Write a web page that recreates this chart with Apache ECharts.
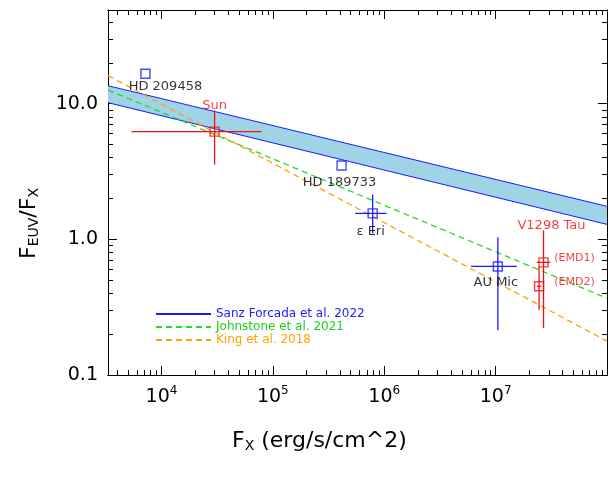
<!DOCTYPE html><html><head><meta charset="utf-8">
<script src="https://cdn.jsdelivr.net/npm/echarts@6/dist/echarts.min.js"></script>
<style>html,body{margin:0;padding:0;background:#fff}#c{width:615px;height:484px}</style></head><body><div id="c"></div>
<script>
// all values in log10 space
const xRange=[3.52,8.0], yRange=[-1,1.69];
const xMajor=[4,5,6,7], yMajor=[-1,0,1];
const yMajorLabels=['0.1','1.0','10.0'];
const sanzLower=[[3.52,1.007],[8.0,0.110]];
const sanzUpper=[[3.52,1.132],[8.0,0.243]];
const johnstone=[[3.52,1.10],[8.0,-0.434]];
const king=[[3.52,1.206],[8.0,-0.75]];
// points: name, x, y, xlo, xhi, ylo, yhi
const bluePts=[['HD 209458',3.856,1.22,null,null,null,null],['HD 189733',5.617,0.544,null,null,null,null],['ε Eri',5.896,0.191,5.74,6.02,0.044,0.33],['AU Mic',7.02,-0.2,6.78,7.19,-0.67,0.015]];
const redPts=[['Sun',4.477,0.794,3.73,4.9,0.551,0.949],['V1298 Tau (EMD1)',7.43,-0.17,7.37,7.49,-0.654,0.066],['V1298 Tau (EMD2)',7.39,-0.346,7.37,7.41,-0.52,-0.2]];
const minorX=[],minorY=[];
for(let d=3;d<8;d++)for(let k=2;k<10;k++){const v=d+Math.log10(k);if(v>xRange[0]&&v<xRange[1])minorX.push(v);}
for(let d=-1;d<2;d++)for(let k=2;k<10;k++){const v=d+Math.log10(k);if(v>yRange[0]&&v<yRange[1])minorY.push(v);}
const BLUE='#1a1aff',RED='#ee1111',GREEN='#22dd22',ORANGE='#ffa200';
const F='DejaVu Sans';
function axX(id,pos,ticks,len,label){return {type:'value',gridIndex:0,position:pos,min:xRange[0],max:xRange[1],
 splitLine:{show:false},axisLine:{show:true,onZero:false,lineStyle:{color:'#000'}},
 axisTick:{show:true,inside:true,length:len,customValues:ticks,lineStyle:{color:'#000'}},
 axisLabel:{show:label,customValues:ticks,color:'#000',fontFamily:F,fontSize:19,margin:10,
  formatter:v=>'10{s|'+Math.round(v)+'}',rich:{s:{fontSize:12,verticalAlign:'top',padding:[0,0,12,0],fontFamily:F}}}};}
function axY(id,pos,ticks,len,label){return {type:'value',gridIndex:0,position:pos,min:yRange[0],max:yRange[1],
 splitLine:{show:false},axisLine:{show:true,onZero:false,lineStyle:{color:'#000'}},
 axisTick:{show:true,inside:true,length:len,customValues:ticks,lineStyle:{color:'#000'}},
 axisLabel:{show:label,customValues:ticks,color:'#000',fontFamily:F,fontSize:19,margin:10,
  formatter:v=>yMajorLabels[yMajor.indexOf(Math.round(v))]}};}
function errSeries(pts,color){return {type:'custom',xAxisIndex:0,yAxisIndex:0,data:pts.filter(p=>p[3]!==null).map(p=>p.slice(1)),
 renderItem:(params,api)=>{const x=api.value(0),y=api.value(1);
  const a=api.coord([api.value(2),y]),b=api.coord([api.value(3),y]),c=api.coord([x,api.value(4)]),d=api.coord([x,api.value(5)]);
  return {type:'group',children:[{type:'line',shape:{x1:a[0],y1:a[1],x2:b[0],y2:b[1]},style:{stroke:color,lineWidth:1.3}},
   {type:'line',shape:{x1:c[0],y1:c[1],x2:d[0],y2:d[1]},style:{stroke:color,lineWidth:1.3}}]};},z:3};}
function ptSeries(pts,color){return {type:'scatter',data:pts.map(p=>[p[1],p[2]]),symbol:'rect',symbolSize:9,
 itemStyle:{color:'rgba(0,0,0,0)',borderColor:color,borderWidth:1.4},z:4};}
const lbl=(name,x,y,color,size,off)=>({value:[x,y],label:{show:true,formatter:name,color:color,fontSize:size,fontFamily:F,offset:off,position:'inside'}});
const labelData=[
 lbl('HD 209458',bluePts[0][1],bluePts[0][2],'#000',13,[20,13]),
 lbl('Sun',redPts[0][1],redPts[0][2],RED,13,[0,-26]),
 lbl('HD 189733',bluePts[1][1],bluePts[1][2],'#000',13,[-2,17]),
 lbl('ε Eri',bluePts[2][1],bluePts[2][2],'#000',13,[-2,18]),
 lbl('AU Mic',bluePts[3][1],bluePts[3][2],'#000',13,[-2,16]),
 lbl('V1298 Tau',redPts[1][1],redPts[1][2],RED,13,[8,-37]),
 lbl('(EMD1)',redPts[1][1],redPts[1][2],RED,11,[31,-4]),
 lbl('(EMD2)',redPts[1][1],redPts[1][2],RED,11,[31,20])];
const chart=echarts.init(document.getElementById('c'));
chart.setOption({animation:false,
 grid:{left:108,right:8,top:10,bottom:109},
 xAxis:[axX(0,'bottom',xMajor,9,true),axX(1,'bottom',minorX,5,false),axX(2,'top',xMajor,9,false),axX(3,'top',minorX,5,false)],
 yAxis:[axY(0,'left',yMajor,9,true),axY(1,'left',minorY,5,false),axY(2,'right',yMajor,9,false),axY(3,'right',minorY,5,false)],
 legend:{orient:'vertical',left:150,top:303,itemGap:1,itemWidth:55,itemHeight:10,itemStyle:{opacity:0},
  textStyle:{fontFamily:F,fontSize:12},
  data:[{name:'Sanz Forcada et al. 2022',textStyle:{color:BLUE}},{name:'Johnstone et al. 2021',textStyle:{color:'#22cc22'}},{name:'King et al. 2018',textStyle:{color:ORANGE}}]},
 series:[
  {type:'custom',data:[[0]],z:1,renderItem:(params,api)=>{
    const pts=[api.coord(sanzLower[0]),api.coord(sanzLower[1]),api.coord(sanzUpper[1]),api.coord(sanzUpper[0])];
    return {type:'polygon',shape:{points:pts},style:{fill:'#9fd3e6',stroke:null}};}},
  {name:'Sanz Forcada et al. 2022',type:'line',data:sanzLower,symbol:'none',lineStyle:{color:BLUE,width:1},itemStyle:{color:BLUE},z:2},
  {name:'Sanz Forcada et al. 2022',type:'line',data:sanzUpper,symbol:'none',lineStyle:{color:BLUE,width:1},itemStyle:{color:BLUE},z:2},
  {name:'Johnstone et al. 2021',type:'line',data:johnstone,symbol:'none',lineStyle:{color:GREEN,width:1.3,type:[6,4]},itemStyle:{color:GREEN},z:2},
  {name:'King et al. 2018',type:'line',data:king,symbol:'none',lineStyle:{color:ORANGE,width:1.3,type:[6,4]},itemStyle:{color:ORANGE},z:2},
  errSeries(bluePts,BLUE),errSeries(redPts,RED),ptSeries(bluePts,BLUE),ptSeries(redPts,RED),
  {type:'scatter',data:labelData,symbolSize:0,z:5}],
 graphic:[
  {type:'text',left:18,top:188,rotation:Math.PI/2,style:{text:'F{s|EUV}/F{s|X}',fontFamily:F,fontSize:22,fill:'#000',rich:{s:{fontSize:14,padding:[10,0,0,0],fontFamily:F}}},origin:[0,0]},
  {type:'text',left:232,top:430,style:{text:'F{s|X} (erg/s/cm^2)',fontFamily:F,fontSize:22,fill:'#000',rich:{s:{fontSize:14,padding:[10,0,0,0],fontFamily:F}}}}]
});
</script></body></html>
